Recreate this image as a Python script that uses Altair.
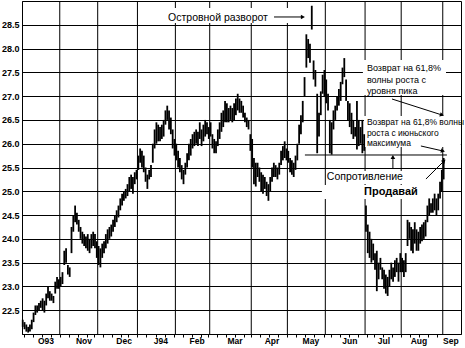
import altair as alt
import pandas as pd

# Daily high / low, one entry per trading day (Oct 1993 .. early Sep 1994)
high = [
    # Oct 93
    22.3, 22.25, 22.2, 22.15, 22.2, 22.3, 22.45, 22.6, 22.6, 22.65, 22.7, 22.75, 22.7, 22.85, 23.0, 22.9, 22.85, 22.8, 23.1, 23.2, 23.15,
    # Nov
    23.2, 23.3, 23.75, 23.8, 23.45, 23.4, 24.25, 24.5, 24.7, 24.55, 24.4, 24.25, 24.15, 24.1, 24.05, 24.1, 24.0, 24.1, 24.15, 24.1, 23.95,
    # Dec
    23.85, 23.8, 23.9, 23.95, 24.1, 24.2, 24.25, 24.3, 24.4, 24.5, 24.6, 24.7, 24.85, 24.95, 25.0, 25.05, 25.15, 25.3, 25.35, 25.3, 25.4, 25.45,
    # Jan 94
    25.75, 25.9, 25.85, 25.75, 25.5, 25.35, 25.45, 25.55, 26.0, 26.3, 26.45, 26.4, 26.35, 26.4, 26.5, 26.7, 26.8, 26.7, 26.55, 26.3, 26.1,
    # Feb
    26.0, 25.85, 25.7, 25.55, 25.45, 25.6, 25.8, 26.0, 26.1, 26.2, 26.25, 26.3, 26.25, 26.45, 26.3, 26.4, 26.5, 26.45, 26.35,
    # Mar
    26.45, 26.2, 26.1, 26.05, 26.3, 26.45, 26.65, 26.7, 26.9, 26.85, 26.75, 26.8, 26.75, 26.85, 26.95, 27.05, 26.95, 26.9, 26.8, 26.65, 26.55, 26.5, 26.2,
    # Apr
    26.1, 25.7, 25.6, 25.6, 25.5, 25.4, 25.35, 25.3, 25.2, 25.15, 25.3, 25.5, 25.6, 25.55, 25.5, 25.6, 25.85, 25.95, 26.05, 25.9,
    # May
    25.85, 25.7, 25.65, 25.6, 25.75, 26.0, 26.4, 26.6, 26.9, 27.4, 28.3, 28.2, 28.1, 28.9, 27.75, 27.55, 27.05, 26.65, 27.1, 27.45, 27.55,
    # Jun
    27.35, 27.05, 26.5, 26.45, 26.7, 26.8, 27.0, 27.15, 27.3, 27.6, 27.8, 27.35, 26.9, 26.85, 26.65, 26.5, 26.35, 26.9, 26.5, 26.35, 26.5, 26.2,
    # Jul
    24.7, 24.3, 24.15, 24.0, 23.9, 23.7, 23.75, 23.5, 23.6, 23.4, 23.35, 23.25, 23.2, 23.35, 23.5, 23.4, 23.55, 23.6, 23.5, 23.7,
    # Aug
    23.6, 23.55, 23.7, 24.4, 24.35, 24.25, 24.2, 24.35, 24.2, 24.15, 24.25, 24.3, 24.35, 24.4, 24.7, 24.85, 24.75, 24.85, 24.95, 24.85, 24.95, 25.2, 25.45,
    # Sep
    25.7,
]
low = [
    # Oct 93
    22.15, 22.1, 22.05, 22.03, 22.05, 22.1, 22.25, 22.4, 22.45, 22.5, 22.55, 22.5, 22.45, 22.6, 22.75, 22.7, 22.7, 22.65, 22.85, 22.95, 22.95,
    # Nov
    23.0, 23.05, 23.45, 23.5, 23.25, 23.2, 23.7, 24.15, 24.35, 24.3, 24.15, 24.0, 23.9, 23.85, 23.8, 23.75, 23.7, 23.8, 23.85, 23.8, 23.6,
    # Dec
    23.45, 23.4, 23.6, 23.7, 23.8, 23.9, 24.0, 24.05, 24.15, 24.25, 24.35, 24.45, 24.6, 24.7, 24.8, 24.85, 24.9, 25.0, 25.05, 24.95, 25.15, 25.25,
    # Jan 94
    25.45, 25.6, 25.5, 25.4, 25.2, 25.05, 25.25, 25.3, 25.6, 25.9, 26.0, 26.05, 26.05, 26.1, 26.15, 26.4, 26.5, 26.3, 26.2, 25.9, 25.75,
    # Feb
    25.65, 25.5, 25.4, 25.25, 25.15, 25.35, 25.5, 25.65, 25.75, 25.9, 25.95, 26.0, 25.95, 26.1, 25.95, 26.05, 26.15, 26.2, 26.1,
    # Mar
    26.15, 25.9, 25.8, 25.8, 25.95, 26.1, 26.25, 26.35, 26.45, 26.45, 26.45, 26.5, 26.45, 26.5, 26.6, 26.7, 26.65, 26.65, 26.55, 26.45, 26.35, 26.3, 25.85,
    # Apr
    25.5, 25.15, 25.1, 25.3, 25.2, 25.0, 24.95, 25.05, 24.9, 24.8, 25.0, 25.2, 25.3, 25.3, 25.25, 25.35, 25.55, 25.65, 25.7, 25.65,
    # May
    25.6, 25.4, 25.35, 25.3, 25.45, 25.65, 26.0, 26.2, 26.45, 27.0, 27.6, 27.8, 27.7, 28.4, 27.35, 27.2, 25.8, 26.15, 26.6, 27.05, 27.0,
    # Jun
    26.85, 26.7, 25.8, 25.77, 26.3, 26.5, 26.7, 26.8, 26.9, 27.25, 27.4, 26.9, 26.5, 26.35, 26.2, 26.1, 26.15, 25.88, 25.95, 26.0, 25.8, 25.85,
    # Jul
    24.15, 23.7, 23.6, 23.5, 23.55, 23.35, 22.9, 23.15, 23.35, 23.15, 22.95, 22.85, 22.8, 23.0, 23.15, 23.1, 23.2, 23.3, 23.1, 23.3,
    # Aug
    23.3, 23.2, 23.3, 23.85, 24.0, 23.75, 23.7, 23.9, 23.75, 23.75, 23.9, 23.95, 24.0, 24.05, 24.35, 24.5, 24.55, 24.55, 24.6, 24.5, 24.6, 24.85, 25.0,
    # Sep
    25.25,
]

# Axis: trading-day index of first day of each month, month labels and their positions
month_labels = ["O93", "Nov", "Dec", "J94", "Feb", "Mar", "Apr", "May", "Jun", "Jul", "Aug", "Sep"]
label_pos = [12.9, 33.9, 56.1, 76.5, 96.5, 117.5, 138.0, 159.5, 181.1, 199.9, 219.3, 237.0]
month_start = [21, 42, 64, 85, 104, 127, 147, 168, 190, 210, 233]
week_ticks = [1, 6, 11, 16, 21, 26, 31, 36, 40, 45, 50, 55, 59, 64, 69, 74, 79, 84, 89, 94, 99, 103,
              108, 113, 118, 123, 127, 132, 137, 142, 147, 152, 157, 162, 167, 171, 176, 181, 186,
              191, 195, 200, 205, 210, 215, 220, 225, 230]
y_ticks = [22.5, 23.0, 23.5, 24.0, 24.5, 25.0, 25.5, 26.0, 26.5, 27.0, 27.5, 28.0, 28.5]

# Annotations (in data units: trading-day index, price)
left_text = ["Возврат на 61,8%", "волны роста с", "уровня пика",
             "Возврат на 61,8% волны", "роста с июньского", "максимума"]
left_x = [190.5, 190.5, 190.5, 190.5, 190.5, 190.5]
left_y = [27.59, 27.34, 27.11, 26.456, 26.225, 26.015]
left_size = [9, 9, 9, 8.5, 8.5, 8.5]

center_text = ["Островной разворот", "Сопротивление"]
center_x = [108.1, 189.4]
center_y = [28.643, 25.30]
center_size = [10.5, 10.5]

bold_text = ["Продавай"]
bold_x = [203.8]
bold_y = [24.985]

arrow_x1 = [139.1, 204.4, 220.4, 204.9, 223.2]
arrow_y1 = [28.664, 26.94, 25.952, 25.468, 25.258]
arrow_x2 = [155.1, 232.05, 232.6, 204.9, 233.2]
arrow_y2 = [28.664, 26.604, 25.847, 25.721, 25.636]
arrow_angle = [90, 107.7, 102.8, 0, 45]

resist_x = [156.2]
resist_x2 = [234.8]
resist_y = [25.763]

box_x1 = [78.7, 188.3, 188.9, 168.4, 165.6]
box_x2 = [153.5, 234.3, 242.5, 210.5, 230.9]
box_y1 = [28.853, 27.76, 26.582, 25.426, 25.132]
box_y2 = [28.538, 27.024, 25.931, 25.153, 24.838]

W, H = 439, 333
FONT = "Liberation Sans"

xs = alt.Scale(domain=[-0.4, 242.6], nice=False, zero=False)
ys = alt.Scale(domain=[22, 29], nice=False, zero=False)
xaxis = alt.Axis(values=[v - 0.5 for v in week_ticks], labels=False, grid=False, tickSize=3,
                 tickColor="black", domainColor="black", title=None)
yaxis = alt.Axis(values=y_ticks, format=".1f", ticks=False, labelPadding=3, labelFontWeight="bold",
                 labelFontSize=9, labelFont=FONT, labelColor="black", grid=True, gridColor="black",
                 gridOpacity=1, gridWidth=1, domainColor="black", title=None)


def X(f):
    return alt.X(f, type="quantitative", scale=xs, axis=xaxis)


def Y(f):
    return alt.Y(f, type="quantitative", scale=ys, axis=yaxis)


df = pd.DataFrame({"i": list(range(len(high))), "high": high, "low": low})
grid_df = pd.DataFrame({"g": [m - 0.5 for m in month_start]})
box_df = pd.DataFrame({"x1": box_x1, "x2": box_x2, "y1": box_y1, "y2": box_y2})
arr_df = pd.DataFrame({"x1": arrow_x1, "y1": arrow_y1, "x2": arrow_x2, "y2": arrow_y2, "ang": arrow_angle})
res_df = pd.DataFrame({"x1": resist_x, "x2": resist_x2, "y": resist_y})
left_df = pd.DataFrame({"t": left_text, "x": left_x, "y": left_y, "s": left_size})
center_df = pd.DataFrame({"t": center_text, "x": center_x, "y": center_y, "s": center_size})
bold_df = pd.DataFrame({"t": bold_text, "x": bold_x, "y": bold_y})
lab_df = pd.DataFrame({"m": month_labels, "p": label_pos})

grid = alt.Chart(grid_df).mark_rule(color="black", strokeWidth=1, opacity=1).encode(x=X("g"))
boxes = alt.Chart(box_df).mark_rect(color="white", opacity=1).encode(
    x=X("x1"), x2="x2", y=Y("y1"), y2="y2")
bars = alt.Chart(df).mark_rule(color="black", strokeWidth=1.8).encode(x=X("i"), y=Y("low"), y2="high")
resist = alt.Chart(res_df).mark_rule(color="black", strokeWidth=1).encode(x=X("x1"), x2="x2", y=Y("y"))
arrows = alt.Chart(arr_df).mark_rule(color="black", strokeWidth=1).encode(
    x=X("x1"), x2="x2", y=Y("y1"), y2="y2")
heads = alt.Chart(arr_df).mark_point(shape="triangle-up", filled=True, color="black", size=22, opacity=1).encode(
    x=X("x2"), y=Y("y2"), angle=alt.Angle("ang:Q", scale=None))
txt_left = alt.Chart(left_df).mark_text(align="left", baseline="middle", font=FONT, color="black").encode(
    x=X("x"), y=Y("y"), text="t:N", size=alt.Size("s:Q", scale=None, legend=None))
txt_center = alt.Chart(center_df).mark_text(align="center", baseline="middle", font=FONT, color="black").encode(
    x=X("x"), y=Y("y"), text="t:N", size=alt.Size("s:Q", scale=None, legend=None))
txt_bold = alt.Chart(bold_df).mark_text(align="center", baseline="middle", font=FONT, fontSize=11,
                                        fontWeight="bold", color="black").encode(
    x=X("x"), y=Y("y"), text="t:N")
labels = alt.Chart(lab_df).mark_text(align="center", baseline="middle", font=FONT, fontSize=8.5,
                                     fontWeight="bold", color="black").encode(
    x=X("p"), y=alt.value(340), text="m:N")

chart = alt.layer(grid, boxes, bars, resist, arrows, heads, txt_left, txt_center, txt_bold, labels).properties(
    width=W, height=H,
    padding={"left": 22, "top": 1, "right": 4, "bottom": 14},
    autosize=alt.AutoSizeParams(type="none"),
    background="white",
).configure_view(stroke="black", strokeWidth=1)

chart.save("out.html", embed_options={"renderer": "svg", "actions": False})
